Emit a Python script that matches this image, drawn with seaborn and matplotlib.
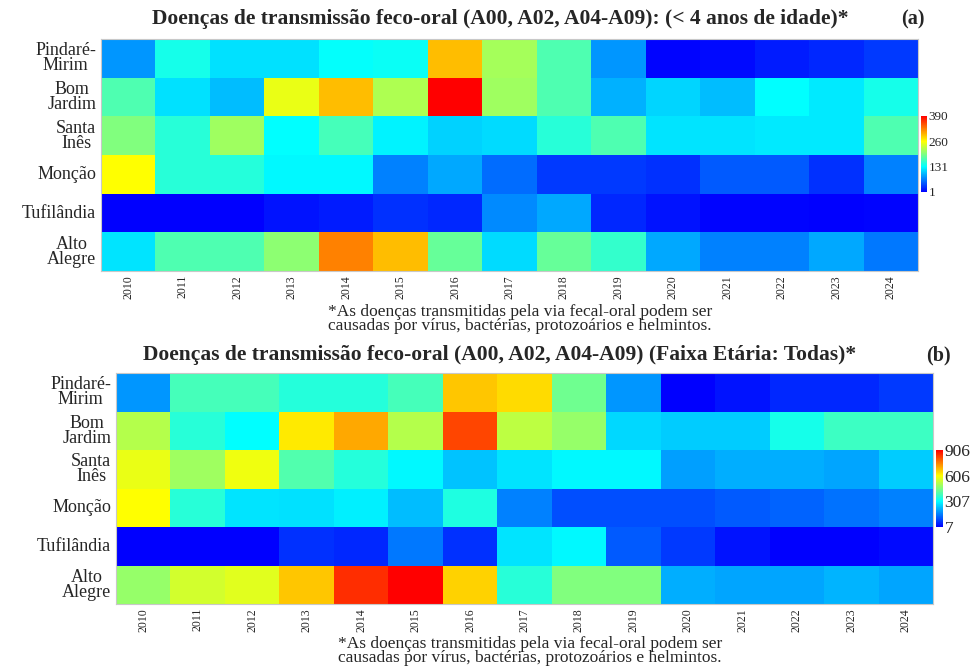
import numpy as np
import pandas as pd
import matplotlib
matplotlib.use("Agg")
import matplotlib.pyplot as plt
import seaborn as sns
from matplotlib.colors import LinearSegmentedColormap

years = [str(y) for y in range(2010, 2025)]
municipios = ["Pindaré-\nMirim", "Bom\nJardim", "Santa\nInês", "Monção", "Tufilândia", "Alto\nAlegre"]

# (a) < 4 anos de idade
a_pindare    = [77, 141, 115, 115, 133, 135, 293, 214, 171, 77, 3, 6, 16, 21, 31]
a_bomjardim  = [171, 115, 98, 250, 293, 219, 390, 212, 171, 92, 110, 98, 131, 120, 141]
a_santaines  = [197, 151, 212, 131, 166, 125, 108, 113, 151, 171, 118, 118, 120, 120, 171]
a_moncao     = [260, 151, 149, 128, 128, 67, 87, 57, 31, 31, 26, 47, 47, 26, 67]
a_tufilandia = [1, 2, 1, 11, 16, 26, 21, 72, 87, 21, 11, 3, 3, 2, 4]
a_altoalegre = [118, 171, 171, 202, 324, 293, 182, 113, 182, 156, 87, 67, 67, 87, 62]

# (b) Faixa Etária: Todas
b_pindare    = [183, 389, 389, 348, 348, 389, 671, 648, 436, 183, 7, 31, 54, 54, 77]
b_bomjardim  = [518, 354, 307, 630, 706, 518, 823, 529, 483, 260, 248, 248, 331, 377, 377]
b_santaines  = [582, 494, 589, 401, 348, 301, 236, 277, 301, 301, 195, 213, 213, 201, 248]
b_moncao     = [606, 354, 277, 271, 289, 230, 342, 160, 101, 101, 101, 113, 124, 142, 160]
b_tufilandia = [7, 7, 7, 66, 54, 148, 66, 277, 301, 113, 77, 31, 7, 9, 19]
b_altoalegre = [483, 553, 571, 671, 852, 906, 660, 354, 459, 459, 213, 201, 201, 218, 201]

ticks_a = [1, 131, 260, 390]
ticks_b = [7, 307, 606, 906]

title_a = "Doenças de transmissão feco-oral (A00, A02, A04-A09): (< 4 anos de idade)*"
title_b = "Doenças de transmissão feco-oral (A00, A02, A04-A09) (Faixa Etária: Todas)*"
nota = "*As doenças transmitidas pela via fecal-oral podem ser\ncausadas por vírus, bactérias, protozoários e helmintos."

df_a = pd.DataFrame([a_pindare, a_bomjardim, a_santaines, a_moncao, a_tufilandia, a_altoalegre],
                    index=municipios, columns=years)
df_b = pd.DataFrame([b_pindare, b_bomjardim, b_santaines, b_moncao, b_tufilandia, b_altoalegre],
                    index=municipios, columns=years)

cmap = LinearSegmentedColormap.from_list("bcyr", ["#0000FF", "#00FFFF", "#FFFF00", "#FF0000"])

sns.set_style("white")
plt.rcParams["font.family"] = ["Liberation Serif", "DejaVu Serif"]

W, H = 974, 669
fig = plt.figure(figsize=(W / 100, H / 100), dpi=100)

def px_axes(x0, y0, x1, y1):
    return fig.add_axes([x0 / W, 1 - y1 / H, (x1 - x0) / W, (y1 - y0) / H])

def draw(df, ticks, box, cbox, title, tag, title_y, tag_x, note_x, note_y, cb_size):
    ax = px_axes(*box)
    cax = px_axes(*cbox)
    sns.heatmap(df, ax=ax, cmap=cmap, vmin=ticks[0], vmax=ticks[-1],
                cbar_ax=cax, cbar_kws={"ticks": ticks})
    ax.set_xlabel("")
    ax.set_ylabel("")
    ax.tick_params(axis="both", length=0)
    ax.tick_params(axis="x", pad=3)
    ax.set_xticklabels(df.columns, rotation=90, fontsize=8.5)
    ax.set_yticklabels(df.index, rotation=0, fontsize=13, ma="center", linespacing=0.85)
    for s in ax.spines.values():
        s.set_visible(True)
        s.set_color("#c8c8c8")
        s.set_linewidth(0.8)
    cb = ax.collections[0].colorbar
    cb.outline.set_visible(False)
    cax.tick_params(length=0, labelsize=cb_size, pad=1)
    cax.set_yticklabels([str(t) for t in ticks])
    fig.text(500 / W, 1 - title_y / H, title, ha="center", va="center",
             fontsize=15.5, fontweight="bold")
    fig.text(tag_x / W, 1 - title_y / H, tag, ha="center", va="center",
             fontsize=14.5, fontweight="bold")
    fig.text(note_x / W, 1 - note_y / H, nota, ha="center", va="center",
             fontsize=12.5, linespacing=0.9)

draw(df_a, ticks_a, (101, 39, 918, 271), (921, 116, 927, 192), title_a, "(a)",
     19, 913, 520, 319, 9.5)
draw(df_b, ticks_b, (116, 373, 933, 604), (936, 450, 943, 527), title_b, "(b)",
     355, 938, 530, 651, 12.5)

fig.savefig("out.png", dpi=100)
